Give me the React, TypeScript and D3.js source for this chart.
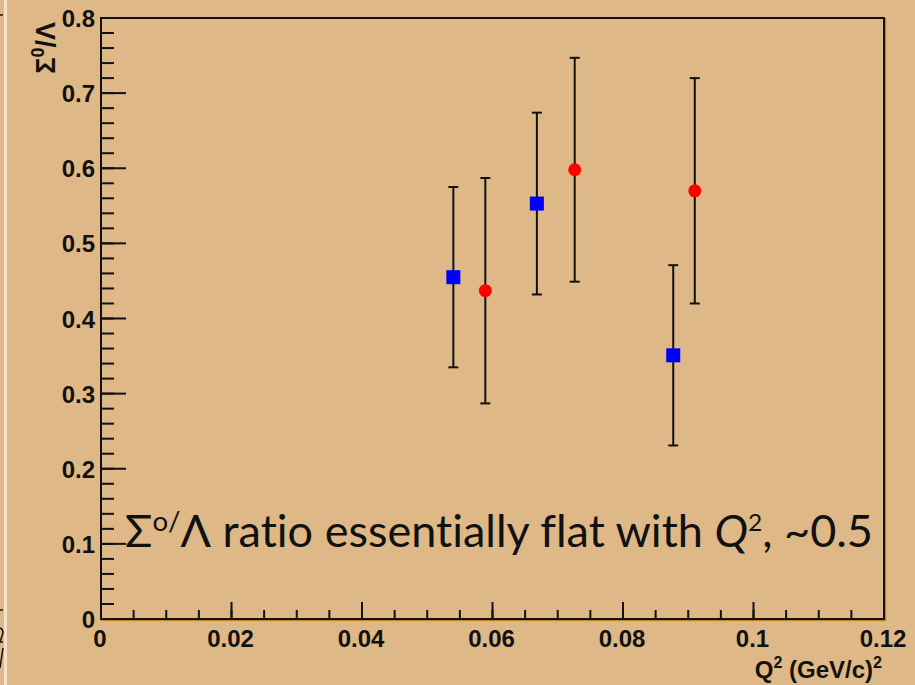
import React from "react";
import * as d3 from "d3";

const xTicks = [0, 0.02, 0.04, 0.06, 0.08, 0.1, 0.12];
const xTickLabels = ["0", "0.02", "0.04", "0.06", "0.08", "0.1", "0.12"];
const yTicks = [0, 0.1, 0.2, 0.3, 0.4, 0.5, 0.6, 0.7, 0.8];
const yTickLabels = ["0", "0.1", "0.2", "0.3", "0.4", "0.5", "0.6", "0.7", "0.8"];

const blueQ2 = [0.054, 0.0668, 0.0877];
const blueRatio = [0.455, 0.553, 0.351];
const blueErr = [0.12, 0.121, 0.12];

const redQ2 = [0.0589, 0.0726, 0.091];
const redRatio = [0.437, 0.598, 0.57];
const redErr = [0.15, 0.149, 0.15];

const BG = "#deb887";
const AXIS_FONT = "'Liberation Sans', Arial, sans-serif";

export default function App() {
  const x = d3.scaleLinear().domain([0, 0.12]).range([101, 884]);
  const y = d3.scaleLinear().domain([0, 0.8]).range([619, 18]);

  const xMinor = d3.range(0, 0.12 + 1e-9, 0.005);
  const yMinor = d3.range(0, 0.8 + 1e-9, 0.02);

  const errBar = (q: number, v: number, e: number, key: string) => (
    <g key={key} stroke="#111" strokeWidth={2}>
      <line x1={x(q)} x2={x(q)} y1={y(v + e)} y2={y(v - e)} />
      <line x1={x(q) - 5} x2={x(q) + 5} y1={y(v + e)} y2={y(v + e)} />
      <line x1={x(q) - 5} x2={x(q) + 5} y1={y(v - e)} y2={y(v - e)} />
    </g>
  );

  return (
    <svg
      width={915}
      height={685}
      style={{ position: "fixed", left: 0, top: 0, background: BG }}
    >
      <rect x={0} y={0} width={915} height={685} fill={BG} />
      {/* left strip remnants */}
      <rect x={4} y={0} width={3} height={685} fill="#f3e2c8" />
      <g stroke="#111" strokeWidth={1.5} fill="none">
        <line x1={0} x2={3} y1={15} y2={15} />
        <line x1={0} x2={3} y1={610} y2={610} />
        <path d="M0,628 Q3,629 3,633 L0,642 L3,642" />
        <path d="M3,648 L0,668" />
      </g>

      {/* frame outer orange */}
      <line x1={101} x2={886} y1={620.5} y2={620.5} stroke="#c8861e" strokeWidth={1.5} />
      <line x1={885.5} x2={885.5} y1={18} y2={621} stroke="#c8861e" strokeWidth={1.5} />
      {/* frame */}
      <rect x={101} y={18} width={783} height={601} fill="none" stroke="#111" strokeWidth={2} />

      {/* y ticks */}
      {yMinor.map((v, i) => (
        <line key={"ym" + i} x1={101} x2={114} y1={y(v)} y2={y(v)} stroke="#111" strokeWidth={2} />
      ))}
      {yTicks.map((v, i) => (
        <line key={"yM" + i} x1={101} x2={126} y1={y(v)} y2={y(v)} stroke="#111" strokeWidth={2} />
      ))}
      {/* x ticks */}
      {xMinor.map((v, i) => (
        <line key={"xm" + i} x1={x(v)} x2={x(v)} y1={619} y2={610} stroke="#111" strokeWidth={2} />
      ))}
      {xTicks.map((v, i) => (
        <line key={"xM" + i} x1={x(v)} x2={x(v)} y1={619} y2={602} stroke="#111" strokeWidth={2} />
      ))}

      {/* tick labels */}
      <g fontFamily={AXIS_FONT} fontWeight="bold" fontSize={24} fill="#111">
        {yTicks.map((v, i) => (
          <text key={"yl" + i} x={95} y={y(v) + 9} textAnchor="end">
            {yTickLabels[i]}
          </text>
        ))}
        {xTicks.map((v, i) => (
          <text key={"xl" + i} x={x(v) - 1} y={647} textAnchor="middle">
            {xTickLabels[i]}
          </text>
        ))}
      </g>

      {/* axis titles */}
      <text
        x={882}
        y={678}
        textAnchor="end"
        fontFamily={AXIS_FONT}
        fontWeight="bold"
        fontSize={24}
        fill="#111"
      >
        Q<tspan dy={-10} fontSize={16}>2</tspan>
        <tspan dy={10}> (GeV/c)</tspan>
        <tspan dy={-10} fontSize={16}>2</tspan>
      </text>
      <text
        transform="translate(55,22) rotate(-90)"
        textAnchor="end"
        fontFamily={AXIS_FONT}
        fontWeight="bold"
        fontSize={27}
        fill="#111"
      >
        Σ<tspan dy={-11} fontSize={18}>0</tspan>
        <tspan dy={11}>/Λ</tspan>
      </text>

      {/* error bars */}
      {blueQ2.map((q, i) => errBar(q, blueRatio[i], blueErr[i], "be" + i))}
      {redQ2.map((q, i) => errBar(q, redRatio[i], redErr[i], "re" + i))}

      {/* markers */}
      {blueQ2.map((q, i) => (
        <rect key={"bm" + i} x={x(q) - 7} y={y(blueRatio[i]) - 7} width={14} height={14} fill="#0000ff" />
      ))}
      {redQ2.map((q, i) => (
        <circle key={"rm" + i} cx={x(q)} cy={y(redRatio[i])} r={6.5} fill="#ff0000" />
      ))}

      {/* annotation */}
      <text
        x={125}
        y={547}
        fontFamily="Lato, 'Open Sans', sans-serif"
        fontSize={44}
        fill="#111"
        textLength={748}
        lengthAdjust="spacingAndGlyphs"
        style={{ fontVariantLigatures: "none" }}
      >
        Σ<tspan dy={-16} fontSize={27}>o/</tspan>
        <tspan dy={16}>Λ ratio essentially flat with </tspan>
        <tspan fontStyle="italic">Q</tspan>
        <tspan dy={-16} fontSize={24}>2</tspan>
        <tspan dy={16}>, ~0.5</tspan>
      </text>
    </svg>
  );
}
